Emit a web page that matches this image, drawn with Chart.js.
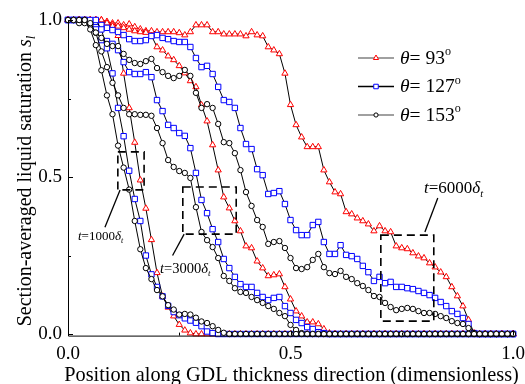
<!DOCTYPE html>
<html>
<head>
<meta charset="utf-8">
<script src="https://cdn.jsdelivr.net/npm/chart.js@4.4.1/dist/chart.umd.min.js"></script>
<style>
    html, body { margin: 0; padding: 0; background: #fff; }
</style>
</head>
<body>
<canvas id="satChart" width="525" height="384"></canvas>
<script>
// Lattice nodes along the GDL thickness (81 nodes, 0 -> 1)
const nodeCount = 80;
const positions = Array.from({ length: nodeCount + 1 }, (_, i) => i / nodeCount);

const xTicks = [0, 0.5, 1.0];
const yTicks = [0, 0.5, 1.0];
const minorTicks = [0.25, 0.75];

// Section-averaged saturation, theta = 93 deg
const theta93_t1000 = [
    1, 1, 1, 1, 1, 1, 1, 0.99, 0.98, 0.95,
    0.83, 0.72, 0.61, 0.49, 0.4, 0.3, 0.195, 0.12, 0.085, 0.057,
    0.03, 0.012, 0.003, 0, 0, 0, 0, 0, 0, 0,
    0, 0, 0, 0, 0, 0, 0, 0, 0, 0,
    0, 0, 0, 0, 0, 0, 0, 0, 0, 0,
    0, 0, 0, 0, 0, 0, 0, 0, 0, 0,
    0, 0, 0, 0, 0, 0, 0, 0, 0, 0,
    0, 0, 0, 0, 0, 0, 0, 0, 0, 0,
    0
];
const theta93_t3000 = [
    1, 1, 1, 1, 1, 1, 0.99, 0.99, 0.985, 0.98,
    0.975, 0.97, 0.965, 0.962, 0.96, 0.95, 0.914, 0.904, 0.885, 0.873,
    0.854, 0.831, 0.806, 0.787, 0.729, 0.678, 0.602, 0.522, 0.436, 0.401,
    0.36, 0.328, 0.28, 0.274, 0.232, 0.21, 0.185, 0.188, 0.191, 0.15,
    0.111, 0.073, 0.057, 0.038, 0.038, 0.032, 0.016, 0.003, 0, 0,
    0, 0, 0, 0, 0, 0, 0, 0, 0, 0,
    0, 0, 0, 0, 0, 0, 0, 0, 0, 0,
    0, 0, 0, 0, 0, 0, 0, 0, 0, 0,
    0
];
const theta93_t6000 = [
    1, 1, 1, 1, 1, 1, 1, 0.995, 0.99, 0.99,
    0.984, 0.987, 0.978, 0.971, 0.965, 0.965, 0.962, 0.962, 0.962, 0.962,
    0.959, 0.952, 0.962, 0.984, 0.984, 0.984, 0.962, 0.962, 0.955, 0.955,
    0.955, 0.955, 0.949, 0.962, 0.952, 0.949, 0.914, 0.904, 0.892, 0.83,
    0.73, 0.666, 0.627, 0.596, 0.596, 0.596, 0.522, 0.484, 0.452, 0.446,
    0.389, 0.382, 0.369, 0.36, 0.35, 0.328, 0.344, 0.328, 0.325, 0.28,
    0.274, 0.271, 0.258, 0.248, 0.242, 0.226, 0.213, 0.197, 0.182, 0.15,
    0.121, 0.089, 0.045, 0.003, 0, 0, 0, 0, 0, 0,
    0
];

// theta = 127 deg
const theta127_t1000 = [
    1, 1, 1, 1, 1, 1, 0.97, 0.91, 0.83, 0.72,
    0.63, 0.52, 0.43, 0.36, 0.25, 0.19, 0.15, 0.12, 0.09, 0.07,
    0.06, 0.05, 0.043, 0.036, 0.025, 0.008, 0.003, 0, 0, 0,
    0, 0, 0, 0, 0, 0, 0, 0, 0, 0,
    0, 0, 0, 0, 0, 0, 0, 0, 0, 0,
    0, 0, 0, 0, 0, 0, 0, 0, 0, 0,
    0, 0, 0, 0, 0, 0, 0, 0, 0, 0,
    0, 0, 0, 0, 0, 0, 0, 0, 0, 0,
    0
];
const theta127_t3000 = [
    1, 1, 1, 1, 0.99, 0.97, 0.936, 0.933, 0.924, 0.904,
    0.866, 0.834, 0.828, 0.828, 0.834, 0.818, 0.745, 0.71, 0.666, 0.656,
    0.64, 0.631, 0.592, 0.513, 0.427, 0.385, 0.334, 0.293, 0.239, 0.21,
    0.182, 0.159, 0.15, 0.15, 0.131, 0.118, 0.108, 0.115, 0.118, 0.089,
    0.067, 0.045, 0.035, 0.022, 0.016, 0.006, 0.003, 0, 0, 0,
    0, 0, 0, 0, 0, 0, 0, 0, 0, 0,
    0, 0, 0, 0, 0, 0, 0, 0, 0, 0,
    0, 0, 0, 0, 0, 0, 0, 0, 0, 0,
    0
];
const theta127_t6000 = [
    1, 1, 1, 1, 0.995, 0.994, 0.984, 0.975, 0.968, 0.962,
    0.952, 0.939, 0.933, 0.933, 0.936, 0.949, 0.952, 0.943, 0.939, 0.933,
    0.93, 0.93, 0.914, 0.879, 0.85, 0.854, 0.828, 0.787, 0.745, 0.739,
    0.72, 0.656, 0.605, 0.589, 0.525, 0.506, 0.446, 0.449, 0.455, 0.414,
    0.363, 0.331, 0.315, 0.315, 0.347, 0.357, 0.293, 0.255, 0.255, 0.283,
    0.252, 0.248, 0.239, 0.217, 0.197, 0.169, 0.182, 0.162, 0.166, 0.15,
    0.15, 0.146, 0.143, 0.137, 0.131, 0.124, 0.115, 0.102, 0.089, 0.073,
    0.064, 0.051, 0.032, 0.003, 0, 0, 0, 0, 0, 0,
    0
];

// theta = 153 deg
const theta153_t1000 = [
    1, 1, 1, 1, 0.97, 0.92, 0.84, 0.76, 0.7, 0.6,
    0.53, 0.46, 0.36, 0.27, 0.21, 0.175, 0.14, 0.12, 0.092, 0.078,
    0.062, 0.064, 0.062, 0.052, 0.04, 0.035, 0.025, 0.013, 0.004, 0,
    0, 0, 0, 0, 0, 0, 0, 0, 0, 0,
    0, 0, 0, 0, 0, 0, 0, 0, 0, 0,
    0, 0, 0, 0, 0, 0, 0, 0, 0, 0,
    0, 0, 0, 0, 0, 0, 0, 0, 0, 0,
    0, 0, 0, 0, 0, 0, 0, 0, 0, 0,
    0
];
const theta153_t3000 = [
    1, 1, 1, 1, 0.99, 0.96, 0.9, 0.85, 0.8, 0.76,
    0.72, 0.7, 0.7, 0.698, 0.698, 0.695, 0.656, 0.608, 0.554, 0.532,
    0.519, 0.513, 0.497, 0.404, 0.325, 0.299, 0.277, 0.242, 0.185, 0.169,
    0.146, 0.134, 0.131, 0.118, 0.108, 0.099, 0.089, 0.08, 0.067, 0.057,
    0.029, 0.013, 0.003, 0, 0, 0, 0, 0, 0, 0,
    0, 0, 0, 0, 0, 0, 0, 0, 0, 0,
    0, 0, 0, 0, 0, 0, 0, 0, 0, 0,
    0, 0, 0, 0, 0, 0, 0, 0, 0, 0,
    0
];
const theta153_t6000 = [
    1, 1, 0.99, 0.99, 0.984, 0.959, 0.943, 0.924, 0.917, 0.917,
    0.892, 0.873, 0.863, 0.86, 0.869, 0.876, 0.847, 0.834, 0.822, 0.815,
    0.822, 0.841, 0.822, 0.768, 0.72, 0.732, 0.72, 0.669, 0.611, 0.608,
    0.576, 0.522, 0.452, 0.408, 0.363, 0.341, 0.287, 0.293, 0.296, 0.274,
    0.242, 0.21, 0.207, 0.213, 0.236, 0.255, 0.213, 0.194, 0.191, 0.201,
    0.182, 0.175, 0.162, 0.153, 0.14, 0.121, 0.118, 0.099, 0.086, 0.076,
    0.08, 0.083, 0.08, 0.073, 0.067, 0.067, 0.064, 0.057, 0.051, 0.041,
    0.035, 0.032, 0.019, 0.003, 0, 0, 0, 0, 0, 0,
    0
];

const serif = '"Liberation Serif", "Times New Roman", serif';

// marker style per contact angle
const angleStyles = [
    { label: '93', color: '#ff0000', pointStyle: 'triangle', radius: 3.6, order: 3, legendLine: '#808080',
      series: [theta93_t1000, theta93_t3000, theta93_t6000] },
    { label: '127', color: '#0000ff', pointStyle: 'rect', radius: 3.8, order: 2, legendLine: '#000',
      series: [theta127_t1000, theta127_t3000, theta127_t6000] },
    { label: '153', color: '#000000', pointStyle: 'circle', radius: 2.7, order: 1, legendLine: '#808080',
      series: [theta153_t1000, theta153_t3000, theta153_t6000] }
];

const datasets = [];
angleStyles.forEach(st => {
    st.series.forEach(values => {
        datasets.push({
            data: values.map((v, i) => ({ x: positions[i], y: v })),
            borderColor: '#000',
            borderWidth: 1,
            pointStyle: st.pointStyle,
            pointRadius: st.radius,
            pointBorderColor: st.color,
            pointBackgroundColor: '#fff',
            pointBorderWidth: 1,
            tension: 0,
            clip: false,
            order: st.order
        });
    });
});

// dashed boxes + leaders, in data units
const annotations = [
    { box: [0.112, 0.171, 0.459, 0.58], leader: [0.117, 0.459, 0.083, 0.34],
      text: '1000', at: [78, 240], size: 13 },
    { box: [0.258, 0.378, 0.318, 0.468], leader: [0.261, 0.318, 0.235, 0.25],
      text: '3000', at: [160, 273], size: 14.5 },
    { box: [0.703, 0.822, 0.041, 0.315], leader: [0.802, 0.325, 0.831, 0.433],
      text: '6000', at: [424, 193], size: 17 }
];

// draw text made of plain / italic / sub / sup pieces
const drawRuns = (ctx, runs, x, y, size, measureOnly) => {
    let cx = x;
    runs.forEach(r => {
        const fs = (r.sub || r.sup) ? size * 0.62 : size;
        ctx.font = `${r.italic ? 'italic ' : ''}${fs}px ${serif}`;
        const dy = r.sub ? size * 0.22 : r.sup ? -size * 0.42 : 0;
        if (!measureOnly) ctx.fillText(r.t, cx, y + dy);
        cx += ctx.measureText(r.t).width;
    });
    return cx - x;
};

const decorations = {
    id: 'decorations',
    afterDraw(chart) {
        const { ctx, chartArea, scales: { x, y } } = chart;
        ctx.save();
        ctx.strokeStyle = '#000';
        ctx.fillStyle = '#000';
        ctx.lineWidth = 1;

        // axis lines
        ctx.beginPath();
        ctx.moveTo(chartArea.left + 0.5, chartArea.top);
        ctx.lineTo(chartArea.left + 0.5, chartArea.bottom + 0.5);
        ctx.lineTo(chartArea.right, chartArea.bottom + 0.5);
        ctx.stroke();

        // inside ticks
        ctx.beginPath();
        xTicks.forEach(v => {
            const px = Math.round(x.getPixelForValue(v)) + 0.5;
            ctx.moveTo(px, chartArea.bottom); ctx.lineTo(px, chartArea.bottom - 5);
        });
        minorTicks.forEach(v => {
            const px = Math.round(x.getPixelForValue(v)) + 0.5;
            ctx.moveTo(px, chartArea.bottom); ctx.lineTo(px, chartArea.bottom - 3);
        });
        yTicks.forEach(v => {
            const py = Math.round(y.getPixelForValue(v)) + 0.5;
            ctx.moveTo(chartArea.left, py); ctx.lineTo(chartArea.left + 5, py);
        });
        minorTicks.forEach(v => {
            const py = Math.round(y.getPixelForValue(v)) + 0.5;
            ctx.moveTo(chartArea.left, py); ctx.lineTo(chartArea.left + 3, py);
        });
        ctx.stroke();

        // axis titles
        ctx.textBaseline = 'alphabetic';
        const xTitle = [{ t: 'Position along GDL thickness direction (dimensionless)' }];
        const xw = drawRuns(ctx, xTitle, 0, 0, 20.3, true);
        drawRuns(ctx, xTitle, 291.5 - xw / 2, 381, 20.3);

        const yTitle = [{ t: 'Section-averaged liquid saturation ' }, { t: 's', italic: true }, { t: 'l', italic: true, sub: true }];
        const yw = drawRuns(ctx, yTitle, 0, 0, 20, true);
        ctx.save();
        ctx.translate(31, 181);
        ctx.rotate(-Math.PI / 2);
        drawRuns(ctx, yTitle, -yw / 2, 0, 20);
        ctx.restore();

        // dashed annotation boxes
        ctx.lineWidth = 1.6;
        ctx.setLineDash([8, 5]);
        annotations.forEach(a => {
            const [x0, x1, y0, y1] = a.box;
            const l = x.getPixelForValue(x0), r = x.getPixelForValue(x1);
            const t = y.getPixelForValue(y1), b = y.getPixelForValue(y0);
            ctx.strokeRect(l, t, r - l, b - t);
        });
        ctx.setLineDash([]);
        ctx.lineWidth = 1.3;
        annotations.forEach(a => {
            const [ax, ay, bx, by] = a.leader;
            ctx.beginPath();
            ctx.moveTo(x.getPixelForValue(ax), y.getPixelForValue(ay));
            ctx.lineTo(x.getPixelForValue(bx), y.getPixelForValue(by));
            ctx.stroke();
            drawRuns(ctx, [
                { t: 't', italic: true }, { t: '=' + a.text }, { t: 'δ', italic: true }, { t: 't', italic: true, sub: true }
            ], a.at[0], a.at[1], a.size);
        });

        // legend
        angleStyles.forEach((st, k) => {
            const ly = 58 + k * 28.5;
            ctx.strokeStyle = st.legendLine;
            ctx.lineWidth = 1.5;
            ctx.beginPath();
            ctx.moveTo(358, ly); ctx.lineTo(394, ly);
            ctx.stroke();
            ctx.save();
            ctx.strokeStyle = st.color;
            ctx.fillStyle = '#fff';
            ctx.lineWidth = 1;
            Chart.helpers.drawPoint(ctx, { pointStyle: st.pointStyle, radius: st.radius - 0.6, borderWidth: 1 }, 376, ly);
            ctx.restore();
            ctx.fillStyle = '#000';
            drawRuns(ctx, [
                { t: 'θ', italic: true }, { t: '= ' }, { t: st.label }, { t: 'o', sup: true }
            ], 400, ly + 5.5, 19.5);
        });
        ctx.restore();
    }
};

new Chart(document.getElementById('satChart'), {
    type: 'line',
    data: { datasets },
    options: {
        responsive: false,
        animation: false,
        events: [],
        layout: { padding: { left: 0, right: 12, top: 20, bottom: 0 } },
        plugins: { legend: { display: false }, tooltip: { enabled: false } },
        scales: {
            x: {
                type: 'linear',
                min: 0,
                max: 1,
                grid: { display: false, drawTicks: false },
                border: { display: false },
                afterBuildTicks: s => { s.ticks = xTicks.map(v => ({ value: v })); },
                afterFit: s => { s.height = 48.4; s.paddingLeft = 0; s.paddingRight = 0; },
                ticks: {
                    padding: 7,
                    color: '#000',
                    font: { family: serif, size: 19 },
                    maxRotation: 0,
                    callback: v => v.toFixed(1)
                }
            },
            y: {
                type: 'linear',
                min: -0.005,
                max: 1,
                grid: { display: false, drawTicks: false },
                border: { display: false },
                afterBuildTicks: s => { s.ticks = yTicks.map(v => ({ value: v })); },
                afterFit: s => { s.width = 68; s.paddingTop = 0; s.paddingBottom = 0; },
                ticks: {
                    padding: 6,
                    color: '#000',
                    font: { family: serif, size: 19 },
                    callback: v => v.toFixed(1)
                }
            }
        }
    },
    plugins: [decorations]
});
</script>
</body>
</html>
